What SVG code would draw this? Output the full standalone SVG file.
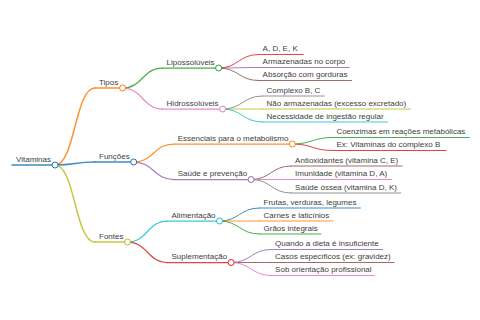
<svg xmlns="http://www.w3.org/2000/svg" width="480" height="320" viewBox="0 0 480 320">
<style>
.t{font-family:"Liberation Sans",Arial,sans-serif;font-size:8px;fill:#404040}
path,line{fill:none;stroke-linecap:round;stroke-opacity:0.85}
circle{fill:#fff;stroke-width:1}
.w1{stroke-width:1.5}.w2{stroke-width:1.25}.w3{stroke-width:1}
.c0{stroke:#1f77b4}.c1{stroke:#ff7f0e}.c2{stroke:#2ca02c}.c3{stroke:#d62728}.c4{stroke:#9467bd}
.c5{stroke:#8c564b}.c6{stroke:#e377c2}.c7{stroke:#7f7f7f}.c8{stroke:#bcbd22}.c9{stroke:#17becf}
</style>
<rect width="480" height="320" fill="#fff"/>
<g id="connectors">
<path class="c1 w1" d="M55,165 C75,165 75,88 95,88"/>
<path class="c0 w1" d="M55,165 C75,165 75,162 95,162"/>
<path class="c8 w1" d="M55,165 C75,165 75,242 95,242"/>
<path class="c2 w2" d="M122.6,88 C142.6,88 142.6,68 162.6,68"/>
<path class="c6 w2" d="M122.6,88 C142.6,88 142.6,109 162.6,109"/>
<path class="c1 w2" d="M133.7,162 C153.7,162 153.7,144 173.7,144"/>
<path class="c4 w2" d="M133.7,162 C153.7,162 153.7,179.5 173.7,179.5"/>
<path class="c9 w2" d="M127.5,242 C147.5,242 147.5,221 167.5,221"/>
<path class="c3 w2" d="M127.5,242 C147.5,242 147.5,262.5 167.5,262.5"/>
<path class="c3 w3" d="M218.6,68 C238.6,68 238.6,54.5 258.6,54.5"/>
<path class="c4 w3" d="M218.6,68 C238.6,68 238.6,67.5 258.6,67.5"/>
<path class="c5 w3" d="M218.6,68 C238.6,68 238.6,80.5 258.6,80.5"/>
<path class="c7 w3" d="M222.6,109 C242.6,109 242.6,96 262.6,96"/>
<path class="c8 w3" d="M222.6,109 C242.6,109 242.6,109 262.6,109"/>
<path class="c9 w3" d="M222.6,109 C242.6,109 242.6,122 262.6,122"/>
<path class="c2 w3" d="M292.4,144 C312.4,144 312.4,137.5 332.4,137.5"/>
<path class="c3 w3" d="M292.4,144 C312.4,144 312.4,150.5 332.4,150.5"/>
<path class="c5 w3" d="M251.1,179.5 C271.1,179.5 271.1,166 291.1,166"/>
<path class="c6 w3" d="M251.1,179.5 C271.1,179.5 271.1,179.5 291.1,179.5"/>
<path class="c7 w3" d="M251.1,179.5 C271.1,179.5 271.1,193 291.1,193"/>
<path class="c0 w3" d="M219.5,221 C239.5,221 239.5,208 259.5,208"/>
<path class="c1 w3" d="M219.5,221 C239.5,221 239.5,221 259.5,221"/>
<path class="c2 w3" d="M219.5,221 C239.5,221 239.5,234 259.5,234"/>
<path class="c4 w3" d="M231.1,262.5 C251.1,262.5 251.1,249.5 271.1,249.5"/>
<path class="c5 w3" d="M231.1,262.5 C251.1,262.5 251.1,262.5 271.1,262.5"/>
<path class="c6 w3" d="M231.1,262.5 C251.1,262.5 251.1,275.5 271.1,275.5"/>
</g>
<g id="vitaminas"><line class="c0 w1" x1="12" y1="165" x2="55" y2="165"/><circle class="c0" cx="55" cy="165" r="3"/><text class="t" x="16" y="161.5">Vitaminas</text></g>
<g id="tipos"><line class="c1 w1" x1="95" y1="88" x2="122.6" y2="88"/><circle class="c1" cx="122.6" cy="88" r="3"/><text class="t" x="99" y="84.5">Tipos</text></g>
<g id="funcoes"><line class="c0 w1" x1="95" y1="162" x2="133.7" y2="162"/><circle class="c0" cx="133.7" cy="162" r="3"/><text class="t" x="99" y="158.5">Funções</text></g>
<g id="fontes"><line class="c8 w1" x1="95" y1="242" x2="127.5" y2="242"/><circle class="c8" cx="127.5" cy="242" r="3"/><text class="t" x="99" y="238.5">Fontes</text></g>
<g id="lipossoluveis"><line class="c2 w2" x1="162.6" y1="68" x2="218.6" y2="68"/><circle class="c2" cx="218.6" cy="68" r="3"/><text class="t" x="166.6" y="64.5">Lipossolúveis</text></g>
<g id="hidrossoluveis"><line class="c6 w2" x1="162.6" y1="109" x2="222.6" y2="109"/><circle class="c6" cx="222.6" cy="109" r="3"/><text class="t" x="166.6" y="105.5">Hidrossolúveis</text></g>
<g id="essenciais"><line class="c1 w2" x1="173.7" y1="144" x2="292.4" y2="144"/><circle class="c1" cx="292.4" cy="144" r="3"/><text class="t" x="177.7" y="140.5">Essenciais para o metabolismo</text></g>
<g id="saude"><line class="c4 w2" x1="173.7" y1="179.5" x2="251.1" y2="179.5"/><circle class="c4" cx="251.1" cy="179.5" r="3"/><text class="t" x="177.7" y="176">Saúde e prevenção</text></g>
<g id="alimentacao"><line class="c9 w2" x1="167.5" y1="221" x2="219.5" y2="221"/><circle class="c9" cx="219.5" cy="221" r="3"/><text class="t" x="171.5" y="217.5">Alimentação</text></g>
<g id="suplementacao"><line class="c3 w2" x1="167.5" y1="262.5" x2="231.1" y2="262.5"/><circle class="c3" cx="231.1" cy="262.5" r="3"/><text class="t" x="171.5" y="259">Suplementação</text></g>
<g id="adek"><line class="c3 w3" x1="258.6" y1="54.5" x2="303.3" y2="54.5"/><text class="t" x="262.6" y="51">A, D, E, K</text></g>
<g id="armazenadas"><line class="c4 w3" x1="258.6" y1="67.5" x2="349.3" y2="67.5"/><text class="t" x="262.6" y="64">Armazenadas no corpo</text></g>
<g id="absorcao"><line class="c5 w3" x1="258.6" y1="80.5" x2="351.5" y2="80.5"/><text class="t" x="262.6" y="77">Absorção com gorduras</text></g>
<g id="complexo"><line class="c7 w3" x1="262.6" y1="96" x2="324.4" y2="96"/><text class="t" x="266.6" y="92.5">Complexo B, C</text></g>
<g id="naoarmazenadas"><line class="c8 w3" x1="262.6" y1="109" x2="410.5" y2="109"/><text class="t" x="266.6" y="105.5">Não armazenadas (excesso excretado)</text></g>
<g id="necessidade"><line class="c9 w3" x1="262.6" y1="122" x2="387.5" y2="122"/><text class="t" x="266.6" y="118.5">Necessidade de ingestão regular</text></g>
<g id="coenzimas"><line class="c2 w3" x1="332.4" y1="137.5" x2="469.3" y2="137.5"/><text class="t" x="336.4" y="134">Coenzimas em reações metabólicas</text></g>
<g id="exvitaminas"><line class="c3 w3" x1="332.4" y1="150.5" x2="446.2" y2="150.5"/><text class="t" x="336.4" y="147">Ex: Vitaminas do complexo B</text></g>
<g id="antioxidantes"><line class="c5 w3" x1="291.1" y1="166" x2="402.2" y2="166"/><text class="t" x="295.1" y="162.5">Antioxidantes (vitamina C, E)</text></g>
<g id="imunidade"><line class="c6 w3" x1="291.1" y1="179.5" x2="391.6" y2="179.5"/><text class="t" x="295.1" y="176">Imunidade (vitamina D, A)</text></g>
<g id="saudeossea"><line class="c7 w3" x1="291.1" y1="193" x2="400.9" y2="193"/><text class="t" x="295.1" y="189.5">Saúde óssea (vitamina D, K)</text></g>
<g id="frutas"><line class="c0 w3" x1="259.5" y1="208" x2="360.4" y2="208"/><text class="t" x="263.5" y="204.5">Frutas, verduras, legumes</text></g>
<g id="carnes"><line class="c1 w3" x1="259.5" y1="221" x2="332.9" y2="221"/><text class="t" x="263.5" y="217.5">Carnes e laticínios</text></g>
<g id="graos"><line class="c2 w3" x1="259.5" y1="234" x2="320.9" y2="234"/><text class="t" x="263.5" y="230.5">Grãos integrais</text></g>
<g id="quando"><line class="c4 w3" x1="271.1" y1="249.5" x2="382.7" y2="249.5"/><text class="t" x="275.1" y="246">Quando a dieta é insuficiente</text></g>
<g id="casos"><line class="c5 w3" x1="271.1" y1="262.5" x2="394.2" y2="262.5"/><text class="t" x="275.1" y="259">Casos específicos (ex: gravidez)</text></g>
<g id="sob"><line class="c6 w3" x1="271.1" y1="275.5" x2="374.3" y2="275.5"/><text class="t" x="275.1" y="272">Sob orientação profissional</text></g>
</svg>
